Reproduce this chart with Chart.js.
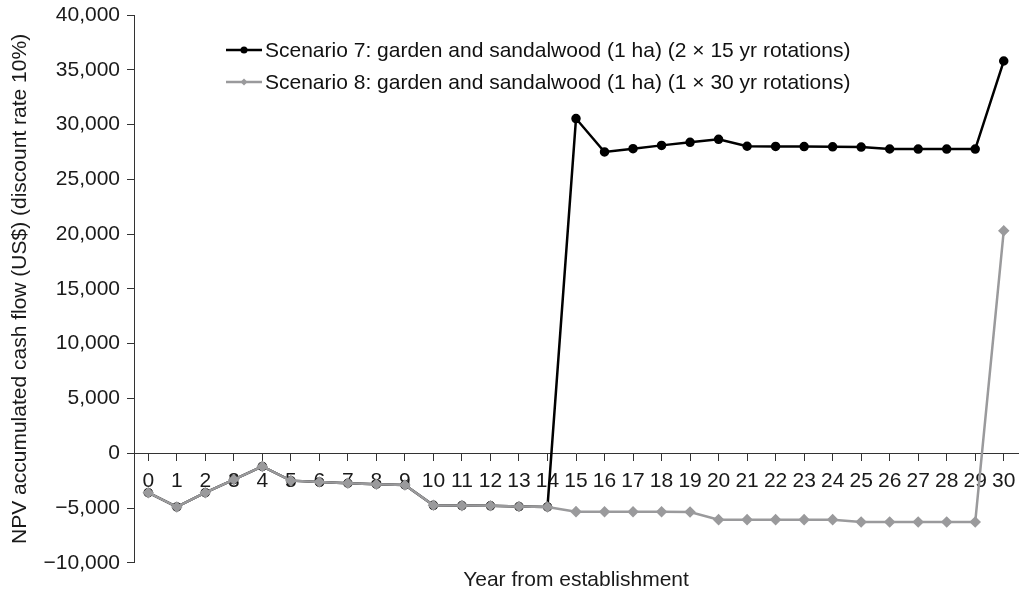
<!DOCTYPE html>
<html>
<head>
<meta charset="utf-8">
<script src="https://cdn.jsdelivr.net/npm/chart.js@4.4.1/dist/chart.umd.min.js"></script>
<style>
  body { margin: 0; background: #fff; }
  #wrap { position: relative; width: 1026px; height: 601px; }
  #leyenda { position: absolute; left: 226px; top: 34px; font: 21px "Liberation Sans", Arial, sans-serif; color: #111; }
  .item { display: flex; align-items: center; height: 32px; }
  .item svg { margin-right: 3px; }
</style>
</head>
<body>
<div id="wrap">
  <canvas id="grafico" width="1026" height="601"></canvas>
  <div id="leyenda"></div>
</div>
<script>
// Datos
const anios = ['0', '1', '2', '3', '4', '5', '6', '7', '8', '9', '10', '11', '12', '13', '14', '15',
  '16', '17', '18', '19', '20', '21', '22', '23', '24', '25', '26', '27', '28', '29', '30'];
const escenario7 = [-3600, -4900, -3600, -2400, -1200, -2500, -2620, -2740, -2830, -2900,
  -4750, -4780, -4800, -4870, -4900, 30550, 27500, 27800, 28100, 28380, 28650, 28020, 28000,
  27990, 27970, 27950, 27770, 27760, 27760, 27760, 35800];
const escenario8 = [-3600, -4900, -3600, -2400, -1200, -2500, -2620, -2740, -2830, -2900,
  -4750, -4780, -4800, -4870, -4900, -5330, -5350, -5350, -5350, -5360, -6060, -6060, -6060,
  -6060, -6060, -6270, -6270, -6270, -6270, -6270, 20300];
const nombres = [
  'Scenario 7: garden and sandalwood (1 ha) (2 \u00d7 15 yr rotations)',
  'Scenario 8: garden and sandalwood (1 ha) (1 \u00d7 30 yr rotations)'
];
const colores = ['#000000', '#9a9a9c'];

const fuente = { family: '"Liberation Sans", Arial, sans-serif', size: 21 };
const textoColor = '#1a1a1a';

// Leyenda en HTML
const leyenda = document.getElementById('leyenda');
nombres.forEach(function(nombre, i) {
  const marca = i === 0
    ? '<circle cx="18" cy="5" r="3.5" fill="' + colores[i] + '"/>'
    : '<path d="M18 1.5 L21.5 5 L18 8.5 L14.5 5 Z" fill="' + colores[i] + '"/>';
  leyenda.innerHTML += '<div class="item"><svg width="36" height="10">' +
    '<line x1="0" y1="5" x2="36" y2="5" stroke="' + colores[i] + '" stroke-width="2.5"/>' +
    marca + '</svg><span>' + nombre + '</span></div>';
});

const ctx = document.getElementById('grafico').getContext('2d');
new Chart(ctx, {
  type: 'line',
  data: {
    labels: anios,
    datasets: [{
      label: nombres[0],
      data: escenario7,
      borderColor: colores[0],
      backgroundColor: colores[0],
      borderWidth: 2.5,
      pointRadius: 3.5,
      pointStyle: 'circle',
      tension: 0,
      order: 1
    }, {
      label: nombres[1],
      data: escenario8,
      borderColor: colores[1],
      backgroundColor: colores[1],
      borderWidth: 2.5,
      pointRadius: 4,
      pointStyle: 'rectRot',
      tension: 0,
      order: 0
    }]
  },
  options: {
    responsive: false,
    animation: false,
    layout: { padding: { top: 15, right: 8, bottom: 6, left: 8 } },
    plugins: {
      legend: { display: false },
      tooltip: { enabled: false },
      title: {
        display: true,
        position: 'bottom',
        fullSize: false,
        text: 'Year from establishment',
        color: textoColor,
        font: { family: fuente.family, size: 21, weight: 'normal' },
        padding: { top: 5, bottom: 2 }
      }
    },
    scales: {
      x: {
        type: 'category',
        position: { y: 0 },
        offset: true,
        grid: { display: true, drawOnChartArea: false, drawTicks: true, tickLength: 7, offset: false, color: '#333' },
        border: { display: true, color: '#333', width: 1 },
        ticks: { color: textoColor, font: fuente, padding: 8, autoSkip: false, maxRotation: 0 },
        afterFit: function(escala) { escala.height = 0; }
      },
      y: {
        min: -10000,
        max: 40000,
        ticks: {
          stepSize: 5000,
          color: textoColor,
          font: fuente,
          padding: 7,
          callback: function(v) {
            return (v < 0 ? '\u2212' : '') + Math.abs(v).toLocaleString('en-US');
          }
        },
        grid: { display: true, drawOnChartArea: false, drawTicks: true, tickLength: 7, color: '#333' },
        border: { display: true, color: '#333', width: 1 },
        title: {
          display: true,
          text: 'NPV accumulated cash flow (US$) (discount rate 10%)',
          color: textoColor,
          font: fuente,
          padding: 0
        },
        afterFit: function(escala) {
          escala.width = 126;
          escala.paddingTop = 0;
          escala.paddingBottom = 0;
        }
      }
    }
  }
});
</script>
</body>
</html>
